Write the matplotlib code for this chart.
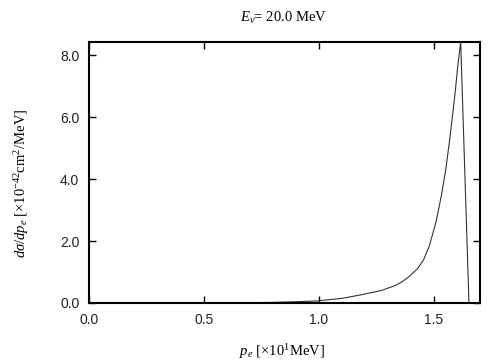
import matplotlib
matplotlib.use("Agg")
import matplotlib.pyplot as plt
from matplotlib.ticker import FormatStrFormatter

# data (x in units of 10 MeV, y in 1e-42 cm^2/MeV)
p_e = [0.00, 0.60, 0.70, 0.80, 0.90, 0.99, 1.10, 1.18, 1.27, 1.33, 1.36,
       1.39, 1.43, 1.455, 1.480, 1.509, 1.533, 1.552, 1.567, 1.581, 1.593,
       1.603, 1.616, 1.652]
dsig = [0.0, 0.0, 0.01, 0.02, 0.04, 0.065, 0.15, 0.26, 0.40, 0.56, 0.68,
        0.84, 1.12, 1.40, 1.85, 2.62, 3.50, 4.35, 5.20, 6.08, 6.87,
        7.62, 8.42, 0.0]
x_ticks = [0.0, 0.5, 1.0, 1.5]
y_ticks = [0.0, 2.0, 4.0, 6.0, 8.0]

plt.rcParams['mathtext.fontset'] = 'custom'
plt.rcParams['mathtext.rm'] = 'Liberation Serif'
plt.rcParams['mathtext.it'] = 'Liberation Serif:italic'

fig = plt.figure(figsize=(5.04, 3.6), dpi=100)
ax = fig.add_axes([89/504, 57/360, 391/504, 261/360])
ax.plot(p_e, dsig, color='#333333', lw=0.8)
ax.set_xlim(0, 1.7)
ax.set_ylim(0, 8.42)
ax.set_xticks(x_ticks)
ax.set_yticks(y_ticks)
ax.xaxis.set_major_formatter(FormatStrFormatter('%.1f'))
ax.yaxis.set_major_formatter(FormatStrFormatter('%.1f'))
ax.tick_params(direction='in', length=5, width=1, top=True, right=True,
               labelsize=10, pad=7, colors='black')
for lab in ax.get_xticklabels() + ax.get_yticklabels():
    lab.set_family('Liberation Sans')
    lab.set_color('#222222')
for s in ax.spines.values():
    s.set_linewidth(1.5)

fig.text(284/504, 1 - 18/360, r'$E_\nu$= 20.0 MeV', ha='center', va='center',
         family='Liberation Serif', fontsize=10.5)
fig.text(282/504, 1 - 352/360, r'$p_e$ [$\times$10$^1$MeV]', ha='center', va='center',
         family='Liberation Serif', fontsize=10.5)
fig.text(22/504, 1 - 183/360, r'$d\sigma/dp_e$ [$\times$10$^{-42}$cm$^2$/MeV]',
         ha='center', va='center', rotation=90, family='Liberation Serif', fontsize=10.5)

fig.savefig('out.png', dpi=100)
